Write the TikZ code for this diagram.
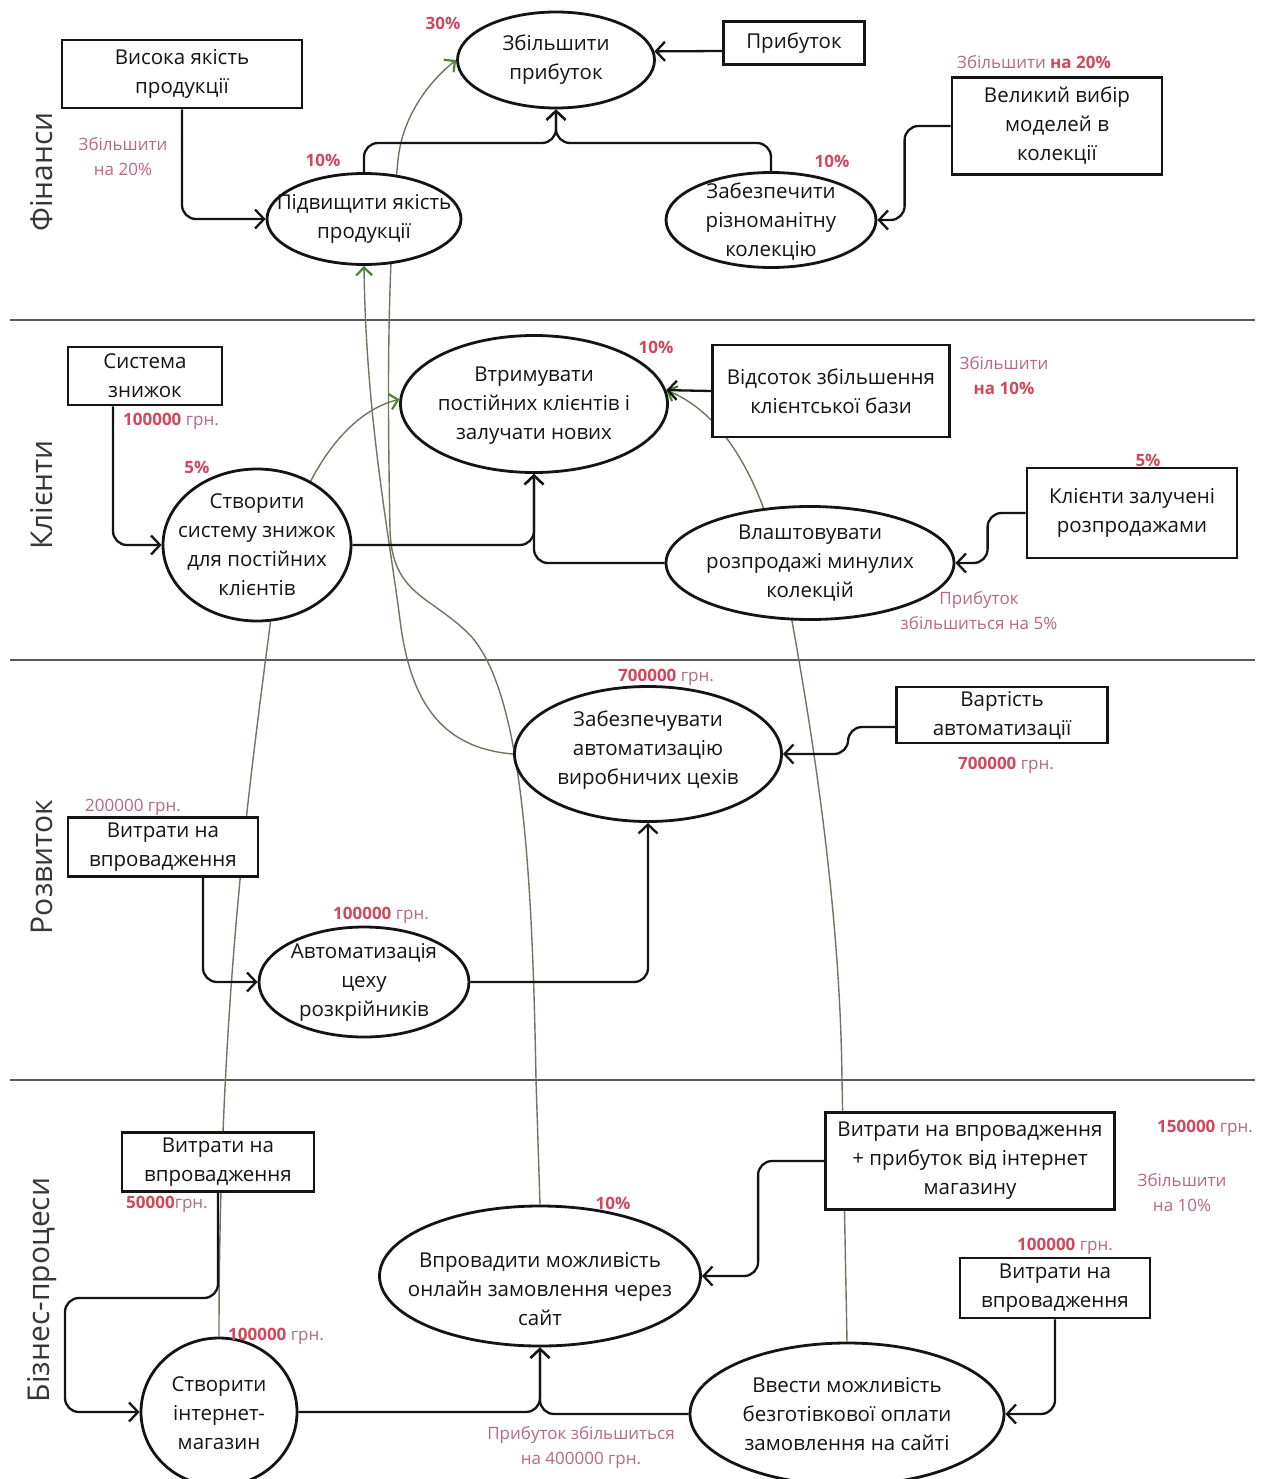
\documentclass[tikz,border=0pt]{standalone}
\usepackage{fontspec}
\setmainfont{Open Sans}
\usetikzlibrary{shapes.geometric,arrows.meta,calc}
\pgfdeclarelayer{paper}
\pgfdeclarelayer{background}
\pgfsetlayers{paper,background,main}
\definecolor{redn}{RGB}{208,72,92}
\definecolor{pinkt}{RGB}{184,104,134}
\definecolor{gline}{RGB}{108,120,94}
\definecolor{garrow}{RGB}{78,130,52}
\definecolor{ink}{RGB}{20,20,20}
\definecolor{secgray}{RGB}{55,55,55}
\newcommand\mainfs{\fontsize{20.5}{29}\selectfont}
\newcommand\lblfs{\fontsize{17}{25}\selectfont}
\newcommand\secfs{\fontsize{30}{34}\selectfont}
\newcommand\rednum[1]{{\bfseries\color{redn}#1}}
\begin{document}
\begin{tikzpicture}[x=1pt,y=-1pt,
  oval/.style={ellipse, draw=ink, line width=2.8pt, fill=white, inner sep=0pt},
  box/.style={rectangle, draw=ink, line width=2.8pt, fill=white, inner sep=0pt, align=center, font=\mainfs, text=ink},
  txt/.style={align=center, font=\mainfs, text=ink, inner sep=0pt},
  lbl/.style={align=center, font=\lblfs, text=pinkt, inner sep=0pt},
  sect/.style={rotate=90, font=\secfs, text=secgray, inner sep=0pt},
  secline/.style={draw=black!65, line width=2pt},
  conn/.style={draw=ink, line width=2.3pt, rounded corners=14pt, -{Straight Barb[length=9pt,width=19pt]}},
  link/.style={draw=gline, line width=1.4pt},
  glink/.style={draw=gline, line width=1.4pt, -{Straight Barb[length=8pt,width=16pt,color=garrow,line width=2.2pt]}},
]
\useasboundingbox (0,0) rectangle (1263,1479);
\begin{pgfonlayer}{paper}
\fill[white] (0,0) rectangle (1263,1479);
% section separators
\draw[secline] (10,320) -- (1255,320);
\draw[secline] (10,660) -- (1255,660);
\draw[secline] (10,1080) -- (1255,1080);
\end{pgfonlayer}

% section titles
\node[sect] (s1) at (42,172) {Фінанси};
\node[sect] (s2) at (42,495) {Клієнти};
\node[sect] (s3) at (42,867) {Розвиток};
\node[sect] (s4) at (42,1290) {Бізнес-процеси};

% ---------- Фінанси ----------
\node[oval, minimum width=197, minimum height=96] (q0) at (556,60) {};
\node[txt] (q0t) at (556,60) {Збільшити\\прибуток};
\node[oval, minimum width=194, minimum height=91] (q1) at (364,219) {};
\node[txt] (q1t) at (364,219) {Підвищити якість\\продукції};
\node[oval, minimum width=210, minimum height=95] (q2) at (771,220) {};
\node[txt] (q2t) at (771,222) {Забезпечити\\різноманітну\\колекцію};
\node[box, minimum width=240, minimum height=68] (bvy) at (182,74) {Висока якість\\продукції};
\node[box, minimum width=141, minimum height=43] (bpr) at (794,43) {Прибуток};
\node[box, minimum width=210, minimum height=97] (bvv) at (1057,126) {Великий вибір\\моделей в\\колекції};

\node[lbl, font=\lblfs\bfseries, text=redn] (l1) at (443,23) {30\%};
\node[lbl, font=\lblfs\bfseries, text=redn] (l2) at (323,160) {10\%};
\node[lbl, font=\lblfs\bfseries, text=redn] (l3) at (832,161) {10\%};
\node[lbl] (l4) at (123,157) {Збільшити\\на 20\%};
\node[lbl] (l5) at (1034,62) {Збільшити \rednum{на 20\%}};

% ---------- Клієнти ----------
\node[oval, minimum width=267, minimum height=137] (vt) at (534,404) {};
\node[txt] (vtt) at (534,406) {Втримувати\\постійних клієнтів і\\залучати нових};
\node[oval, minimum width=188, minimum height=152] (cs) at (257,545) {};
\node[txt] (cst) at (257,545) {Створити\\систему знижок\\для постійних\\клієнтів};
\node[oval, minimum width=288, minimum height=113] (vl) at (810,563) {};
\node[txt] (vlt) at (810,563) {Влаштовувати\\розпродажі минулих\\колекцій};
\node[box, minimum width=154, minimum height=58] (bsz) at (145,376) {Система\\знижок};
\node[box, minimum width=237, minimum height=92] (bvz) at (831,391) {Відсоток збільшення\\клієнтської бази};
\node[box, minimum width=210, minimum height=90] (bkz) at (1132,513) {Клієнти залучені\\розпродажами};

\node[lbl] (l6) at (171,421) {\rednum{100000} грн.};
\node[lbl, font=\lblfs\bfseries, text=redn] (l7) at (197,467) {5\%};
\node[lbl, font=\lblfs\bfseries, text=redn] (l8) at (656,347) {10\%};
\node[lbl] (l9) at (1004,376) {Збільшити\\\rednum{на 10\%}};
\node[lbl, font=\lblfs\bfseries, text=redn] (l10) at (1148,460) {5\%};
\node[lbl] (l11) at (979,611) {Прибуток\\збільшиться на 5\%};

% ---------- Розвиток ----------
\node[oval, minimum width=267, minimum height=135] (za) at (648,754) {};
\node[txt] (zat) at (648,750) {Забезпечувати\\автоматизацію\\виробничих цехів};
\node[oval, minimum width=210, minimum height=110] (av) at (364,982) {};
\node[txt] (avt) at (364,982) {Автоматизація\\цеху\\розкрійників};
\node[box, minimum width=211, minimum height=56] (bva) at (1002,715) {Вартість\\автоматизації};
\node[box, minimum width=190, minimum height=59] (bvr) at (163,847) {Витрати на\\впровадження};

\node[lbl] (l12) at (666,677) {\rednum{700000} грн.};
\node[lbl] (l13) at (1006,765) {\rednum{700000} грн.};
\node[lbl] (l14) at (133,807) {200000 грн.};
\node[lbl] (l15) at (381,915) {\rednum{100000} грн.};

% ---------- Бізнес-процеси ----------
\node[oval, minimum width=321, minimum height=140] (vp) at (540,1276) {};
\node[txt] (vpt) at (540,1289) {Впровадити можливість\\онлайн замовлення через\\сайт};
\node[oval, minimum width=156, minimum height=148] (ci) at (219,1412) {};
\node[txt] (cit) at (219,1413) {Створити\\інтернет-\\магазин};
\node[oval, minimum width=314, minimum height=142] (vv2) at (847,1414) {};
\node[txt] (vv2t) at (847,1414) {Ввести можливість\\безготівкової оплати\\замовлення на сайті};
\node[box, minimum width=192, minimum height=59] (bvb) at (218,1162) {Витрати на\\впровадження};
\node[box, minimum width=289, minimum height=97] (bvi) at (970,1161) {Витрати на впровадження\\+ прибуток від інтернет\\магазину};
\node[box, minimum width=190, minimum height=60] (bvw) at (1055,1288) {Витрати на\\впровадження};

\node[lbl] (l16) at (167,1204) {\rednum{50000}грн.};
\node[lbl] (l17) at (276,1336) {\rednum{100000} грн.};
\node[lbl, font=\lblfs\bfseries, text=redn] (l18) at (613,1203) {10\%};
\node[lbl] (l19) at (581,1448) {Прибуток збільшиться\\на 400000 грн.};
\node[lbl] (l20) at (1205,1128) {\rednum{150000} грн.};
\node[lbl] (l21) at (1182,1193) {Збільшити\\на 10\%};
\node[lbl] (l22) at (1065,1246) {\rednum{100000} грн.};

% ---------- thin green links (behind nodes) ----------
\begin{pgfonlayer}{background}
\draw[link] (ci.north) .. controls (219,1000) and (250,780) .. (cs.-80);
\draw[glink] (cs.50) .. controls (335,435) and (365,408) .. (vt.178);
\draw[glink] (za.west) .. controls (440,748) and (410,700) .. (400,620)
   .. controls (390,540) and (366,420) .. (q1.south);
\draw[glink] (vp.north) -- (536,1080) .. controls (532,850) and (520,690) .. (470,635)
   .. controls (430,595) and (392,595) .. (390,530)
   .. controls (388,420) and (386,280) .. (398,160)
   .. controls (402,120) and (425,85) .. (q0.west);
\draw[glink] (vv2.north) -- (842,1080) .. controls (840,900) and (810,720) .. (790,610)
   .. controls (775,520) and (740,420) .. (vt.6);
\end{pgfonlayer}

% ---------- black connectors ----------
\coordinate (m0) at (556,143);
\draw[conn] (bvy.south) |- (q1.west);
\draw[conn] (q1.north) |- (m0) -- (q0.south);
\draw[conn] (q2.north) |- (m0) -- (q0.south);
\draw[conn] ($(bpr.west)+(0,8)$) -- (q0.5);
\draw[conn] (bvv.west) -- ++(-46,0) |- (q2.east);

\draw[conn] ($(bsz.south)+(-32,0)$) |- (cs.west);
\draw[conn] (cs.east) -| (vt.south);
\draw[conn] (vl.west) -| (vt.south);
\draw[conn] (bvz.west) -- (vt.6);
\draw[conn] (bkz.west) -- ++(-38,0) |- (vl.east);

\draw[conn] ($(bva.west)+(0,12)$) -- ++(-47,0) |- (za.east);
\draw[conn] ($(bvr.south)+(40,0)$) |- (av.west);
\draw[conn] (av.east) -| (za.south);

\coordinate (k1) at (65,1298);
\draw[conn] (bvb.south) |- (k1) |- (ci.west);
\draw[conn] (ci.east) -| (vp.south);
\draw[conn] (vv2.west) -| (vp.south);
\draw[conn] (bvi.west) -- ++(-66,0) |- (vp.east);
\draw[conn] (bvw.south) |- (vv2.east);
\end{tikzpicture}
\end{document}
